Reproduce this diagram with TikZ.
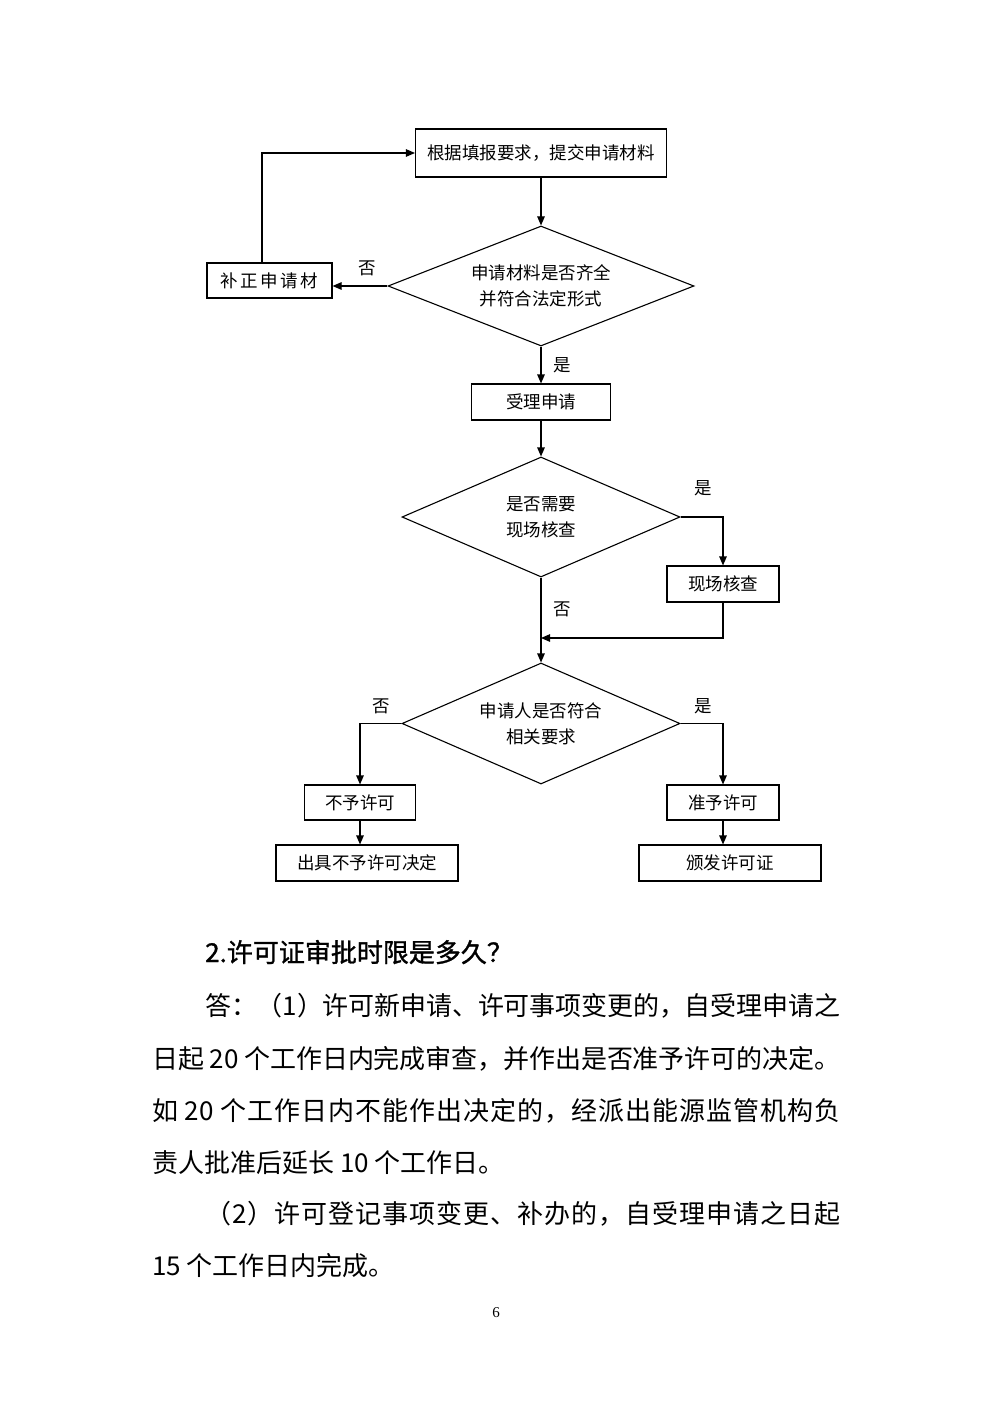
\documentclass[tikz,border=0pt]{standalone}
\usepackage{fontspec}
\setmainfont{Liberation Serif}
\newfontfamily\cjk{Noto Sans CJK SC}
\newfontfamily\cjkh{Noto Sans CJK SC}[FakeBold=1.2]
\usetikzlibrary{shapes.geometric,arrows.meta}
\XeTeXinterchartokenstate=1
\newcount\cjkcc
\cjkcc="4E00
\loop\XeTeXcharclass\cjkcc=1 \advance\cjkcc by 1 \ifnum\cjkcc<"A000 \repeat
\XeTeXcharclass"FF08=2
\XeTeXcharclass"3001=3 \XeTeXcharclass"3002=3 \XeTeXcharclass"FF0C=3
\XeTeXcharclass"FF1A=3 \XeTeXcharclass"FF09=3 \XeTeXcharclass"FF1F=3
\newcommand\cjkglue{\hskip 0pt plus 4pt minus 2pt\relax}
\XeTeXinterchartoks 1 1 = {\cjkglue}
\XeTeXinterchartoks 1 2 = {\cjkglue}
\XeTeXinterchartoks 1 3 = {\cjkglue}
\XeTeXinterchartoks 2 1 = {\cjkglue}
\XeTeXinterchartoks 3 1 = {\cjkglue}
\XeTeXinterchartoks 3 2 = {\cjkglue}
\XeTeXinterchartoks 3 3 = {\cjkglue}
\XeTeXinterchartoks 2 0 = {\cjkglue}
\XeTeXinterchartoks 0 3 = {\cjkglue}
\XeTeXinterchartoks 0 1 = {\cjkglue}
\XeTeXinterchartoks 1 0 = {\cjkglue}
\begin{document}
\begin{tikzpicture}[x=1pt,y=-1pt,
  fc/.style={font=\cjk\fontsize{17.5}{26}\selectfont},
  box/.style={fc, draw, line width=1.1pt, inner sep=0pt},
  dia/.style={fc, draw, diamond, line width=1.1pt, inner sep=0pt, align=center},
  ln/.style={line width=1.1pt},
  arr/.style={ln, -{Triangle[length=9pt,width=7.5pt]}},
  lab/.style={fc, inner sep=0pt},
  txt/.style={font=\cjk\fontsize{26}{26}\selectfont, inner sep=0pt, anchor=base west}]
\useasboundingbox (0,0) rectangle (993,1404);
% flowchart nodes
\node[box, minimum width=251pt, minimum height=48pt] (b1) at (541,153) {根据填报要求，提交申请材料};
\node[dia, aspect=2.55, minimum width=306pt, minimum height=120pt] (d1) at (541,286) {申请材料是否齐全\\并符合法定形式};
\node[box, minimum width=125pt, minimum height=35pt] (b2) at (269.5,280.5) {补\hspace{2.5pt}正\hspace{2.5pt}申\hspace{2.5pt}请\hspace{2.5pt}材};
\node[box, minimum width=139pt, minimum height=36pt] (b3) at (541,402) {受理申请};
\node[dia, aspect=2.3, minimum width=278pt, minimum height=120pt] (d2) at (541,517) {是否需要\\现场核查};
\node[box, minimum width=112pt, minimum height=36pt] (b4) at (723,584) {现场核查};
\coordinate (m) at (541,638);
\node[dia, aspect=2.3, minimum width=278pt, minimum height=121pt] (d3) at (541,723.5) {申请人是否符合\\相关要求};
\node[box, minimum width=111pt, minimum height=35pt] (b5) at (360,802.5) {不予许可};
\node[box, minimum width=112pt, minimum height=35pt] (b6) at (723,802.5) {准予许可};
\node[box, minimum width=182pt, minimum height=36pt] (b7) at (367,863) {出具不予许可决定};
\node[box, minimum width=182pt, minimum height=36pt] (b8) at (730,863) {颁发许可证};
% labels
\node[lab] (n1) at (367,268) {否};
\node[lab] (y1) at (562,365) {是};
\node[lab] (y2) at (703,488) {是};
\node[lab] (n2) at (562,609) {否};
\node[lab] (n3) at (381,706) {否};
\node[lab] (y3) at (703,706) {是};
% connectors
\draw[arr] (b1.south) -- (d1.north);
\draw[arr] (d1.west) -- (d1.west -| b2.east);
\draw[arr] ([xshift=-7.5pt]b2.north) |- (b1.west);
\draw[arr] (d1.south) -- (b3.north);
\draw[arr] (b3.south) -- (d2.north);
\draw[arr] (d2.east) -| (b4.north);
\draw[arr] (b4.south) |- (m);
\draw[arr] (d2.south) -- (d3.north);
\draw[arr] (d3.west) -| (b5.north);
\draw[arr] (d3.east) -| (b6.north);
\draw[arr] (b5.south) -- (b5.south |- b7.north);
\draw[arr] (b6.south) -- (b6.south |- b8.north);
% body text
\node[txt] (h) at (205,962) {\cjkh 2.许可证审批时限是多久？};
\node[txt] (l1) at (205,1015) {\makebox[635pt][s]{答：（1）许可新申请、许可事项变更的，自受理申请之}};
\node[txt] (l2) at (152,1068) {\makebox[688pt][s]{日起 20 个工作日内完成审查，并作出是否准予许可的决定。}};
\node[txt] (l3) at (152,1120) {\makebox[688pt][s]{如 20 个工作日内不能作出决定的，经派出能源监管机构负}};
\node[txt] (l4) at (152,1172) {责人批准后延长 10 个工作日。};
\node[txt] (l5) at (205,1223) {\makebox[635pt][s]{（2）许可登记事项变更、补办的，自受理申请之日起}};
\node[txt] (l6) at (152,1275) {15 个工作日内完成。};
\node[font=\fontsize{15}{15}\selectfont, inner sep=0pt] (pg) at (496,1313) {6};
\end{tikzpicture}
\end{document}
